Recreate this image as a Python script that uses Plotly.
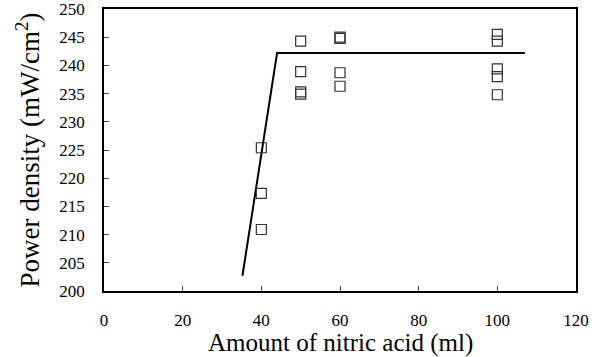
import plotly.graph_objects as go

# measured data
x_data = [40, 40, 40, 50, 50, 50, 50, 60, 60, 60, 60, 100, 100, 100, 100, 100]
y_data = [225.4, 217.3, 210.9, 244.3, 238.9, 235.3, 234.9, 245.0, 244.8, 238.7, 236.3, 245.5, 244.3, 239.4, 238.0, 234.8]

# fitted trend line
line_x = [35.2, 44.0, 107.0]
line_y = [202.7, 242.2, 242.2]

x_ticks = [0, 20, 40, 60, 80, 100, 120]
y_ticks = [200, 205, 210, 215, 220, 225, 230, 235, 240, 245, 250]

SERIF = "Times New Roman"

fig = go.Figure()
fig.add_trace(go.Scatter(x=line_x, y=line_y, mode="lines",
                         line=dict(color="black", width=2), showlegend=False))
fig.add_trace(go.Scatter(x=x_data, y=y_data, mode="markers",
                         marker=dict(symbol="square-open", size=10,
                                     color="#333333", line=dict(width=1.2)),
                         showlegend=False))

fig.update_layout(
    width=608, height=357,
    margin=dict(l=104, r=32, t=9, b=66),
    plot_bgcolor="white", paper_bgcolor="white",
    font=dict(family=SERIF, color="black"),
    xaxis=dict(range=[0, 120], tickvals=x_ticks, ticks="inside", ticklen=5,
               showgrid=False, zeroline=False, showline=True, linecolor="black",
               linewidth=1.5, mirror=True, automargin=False,
               ticklabelstandoff=13, ticklabeloverflow="allow",
               tickfont=dict(family=SERIF, size=17, color="black")),
    yaxis=dict(range=[200, 250], tickvals=y_ticks, ticks="inside", ticklen=5,
               showgrid=False, zeroline=False, showline=True, linecolor="black",
               linewidth=1.5, mirror=True, automargin=False,
               ticklabelstandoff=14, ticklabeloverflow="allow",
               tickfont=dict(family=SERIF, size=17, color="black"),
               title=dict(text="Power density (mW/cm<sup>2</sup>)",
                          font=dict(family=SERIF, size=27), standoff=12)),
    annotations=[dict(text="Amount of nitric acid (ml)", xref="paper", yref="paper",
                      x=0.5, y=-52 / 282, xanchor="center", yanchor="middle",
                      showarrow=False, font=dict(family=SERIF, size=25, color="black"))],
)

fig.write_html("out.html", config={"displayModeBar": False},
               post_script="document.body.style.margin='0';")
